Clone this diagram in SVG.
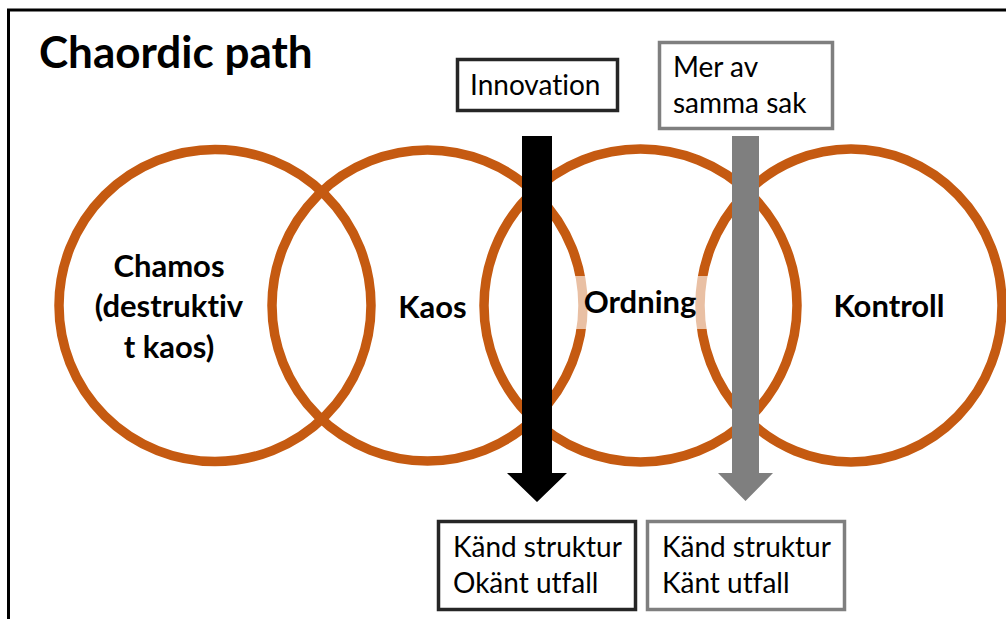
<svg xmlns="http://www.w3.org/2000/svg" width="1006" height="619" viewBox="0 0 1006 619">
<style>
text{font-variant-ligatures:none;font-feature-settings:"liga" 0,"clig" 0}
.ring{fill:none;stroke:#C55A11;stroke-width:9.5}
.lbl{font-family:Lato,"Open Sans","Liberation Sans",sans-serif;font-weight:bold;font-size:31px;fill:#000;text-anchor:middle}
.txt{font-family:Lato,"Open Sans","Liberation Sans",sans-serif;font-size:28px;fill:#000}
.boxd{fill:#fff;stroke:#262626;stroke-width:3.5}
.boxg{fill:#fff;stroke:#7F7F7F;stroke-width:3.5}
</style>
<rect x="0" y="0" width="1006" height="619" fill="#fff"/>
<rect x="8.5" y="10" width="1100" height="700" fill="none" stroke="#000" stroke-width="3"/>
<text x="39" y="68" style="font-family:Lato,'Open Sans','Liberation Sans',sans-serif;font-weight:bold;font-size:44px;fill:#000">Chaordic path</text>

<g id="chamos">
<circle class="ring" cx="215" cy="305.5" r="156"/>
</g>
<g id="kaos">
<circle class="ring" cx="427.5" cy="305.5" r="155.5"/>
</g>
<g id="ordning">
<circle class="ring" cx="640.5" cy="305.5" r="156.5"/>
</g>
<g id="kontroll">
<ellipse class="ring" cx="851" cy="305.5" rx="151" ry="156.5"/>
</g>
<rect x="572" y="276" width="136" height="53" fill="#fff" fill-opacity="0.62"/>
<g id="labels">
<text class="lbl" x="169" y="277">Chamos</text>
<text class="lbl" x="169" y="317">(destruktiv</text>
<text class="lbl" x="169" y="358">t kaos)</text>
<text class="lbl" x="432.5" y="318">Kaos</text>
<text class="lbl" x="640" y="313">Ordning</text>
<text class="lbl" x="889" y="317">Kontroll</text>
</g>

<g id="connectors">
<polygon points="522,136 552,136 552,473 567,473 537,502 507,473 522,473" fill="#000"/>
<polygon points="732,136 759,136 759,473 773,473 745.5,501 718,473 732,473" fill="#7F7F7F"/>
</g>

<g id="innovation">
<rect class="boxd" x="457.5" y="59.5" width="160" height="51"/>
<text class="txt" x="470" y="95">Innovation</text>
</g>
<g id="mer-av-samma-sak">
<rect class="boxg" x="659.5" y="42.5" width="173" height="86"/>
<text class="txt" x="673" y="77">Mer av</text>
<text class="txt" x="673" y="113">samma sak</text>
</g>
<g id="okant-utfall">
<rect class="boxd" x="438.5" y="521.5" width="197" height="88"/>
<text class="txt" x="453" y="557">Känd struktur</text>
<text class="txt" x="453" y="593">Okänt utfall</text>
</g>
<g id="kant-utfall">
<rect class="boxg" x="647.5" y="521.5" width="197" height="88"/>
<text class="txt" x="662" y="557">Känd struktur</text>
<text class="txt" x="662" y="593">Känt utfall</text>
</g>
</svg>
